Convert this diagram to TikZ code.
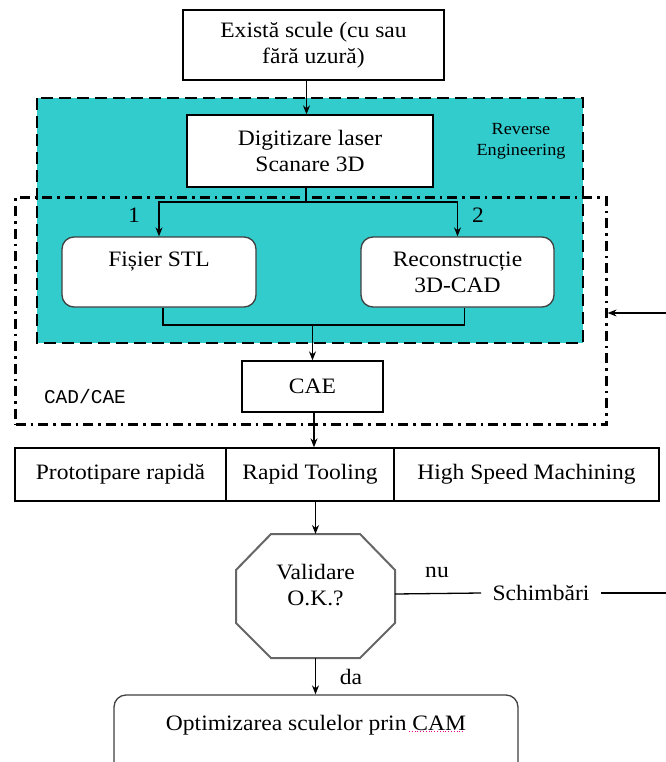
\documentclass[tikz,border=0pt]{standalone}
\usepackage{fontspec}
\setmainfont[FakeStretch=1.07]{Liberation Serif}
\newfontfamily\monofont{Liberation Mono}
\usetikzlibrary{arrows.meta}
\definecolor{tealfill}{RGB}{51,204,204}
\tikzset{
  txt/.style={font=\fontsize{22}{26}\selectfont, align=center},
  plainbox/.style={txt, draw=black, line width=1.3pt, fill=white, inner sep=0pt},
  roundbox/.style={txt, draw=black!75, line width=1.3pt, fill=white, rounded corners=12pt, inner sep=0pt},
  flow/.style={line width=1.3pt, -{Stealth[length=9pt,width=7pt]}},
  link/.style={line width=1.3pt},
}
\begin{document}
\begin{tikzpicture}[x=1pt,y=-1pt]
\useasboundingbox (0,0) rectangle (665,762);

% Reverse Engineering region
\fill[tealfill] (37,98) rectangle (583,343);
% CAD/CAE region
\node[draw=black, line width=2.2pt, dash pattern=on 10pt off 5pt on 2.5pt off 5pt,
      minimum width=591pt, minimum height=227pt, inner sep=0pt] (cad) at (311,311) {};
\draw[black, line width=2.8pt, dash pattern=on 12pt off 6pt] (37,98) rectangle (583,343);
\node[font=\fontsize{17}{21}\selectfont, align=center] (re) at (521,141) {Reverse\\Engineering};
\node[font=\monofont\fontsize{19.5}{21}\selectfont] (cadlbl) at (85,397) {CAD/CAE};

% boxes
\node[plainbox, minimum width=261pt, minimum height=70pt] (top) at (313.5,45) {Există scule (cu sau\\fără uzură)};
\node[plainbox, minimum width=246pt, minimum height=72pt] (dig) at (310,151) {Digitizare laser\\Scanare 3D};
\node[roundbox, minimum width=194pt, minimum height=70pt] (stl) at (159,272) {Fișier STL\\\mbox{}};
\node[roundbox, minimum width=193pt, minimum height=70pt] (rec) at (457.5,272) {Reconstrucție\\3D-CAD};
\node[plainbox, minimum width=141pt, minimum height=51pt] (cae) at (312.5,386.5) {CAE};

\node[plainbox, minimum width=211pt, minimum height=53pt] (proto) at (120.5,474.5) {Prototipare rapidă};
\node[plainbox, minimum width=168pt, minimum height=53pt] (tool) at (310,474.5) {Rapid Tooling};
\node[plainbox, minimum width=265pt, minimum height=53pt] (hsm) at (526.5,474.5) {High Speed Machining};

% decision octagon
\coordinate (octN) at (315.5,534);
\coordinate (octS) at (315.5,658);
\coordinate (octE) at (395,594);
\draw[line width=2pt, draw=black!60, fill=white]
  (271,534) -- (360,534) -- (395,570) -- (395,623) -- (360,658) -- (271,658) -- (236,623) -- (236,570) -- cycle;
\node[txt] (val) at (315.5,585) {Validare\\O.K.?};

\node[roundbox, minimum width=404pt, minimum height=82pt] (opt) at (316,736) {Optimizarea sculelor prin CAM\\\mbox{}};
\draw[magenta, line width=0.8pt, dotted] (409,731.5) -- (464,731.5);

% labels
\node[txt] (n1) at (134,215) {1};
\node[txt] (n2) at (478,215) {2};
\node[txt] (nu) at (437,572) {nu};
\node[txt] (da) at (351,677) {da};
\node[txt] (sch) at (541,593) {Schimbări};

% connectors
\draw[flow] ([xshift=-7pt]top.south) -- ([xshift=-7pt]top.south |- dig.north);
\coordinate (split) at ([xshift=-4pt]dig.south |- 0,202);
\draw[link] ([xshift=-4pt]dig.south) -- (split);
\draw[flow] (split) -| (stl.north);
\draw[flow] (split) -| (rec.north);
\coordinate (merge) at (cae.north |- 0,325);
\draw[link] ([xshift=4pt]stl.south) |- (merge) -| ([xshift=7pt]rec.south);
\draw[flow] (merge) -- (cae.north);
\draw[flow] ([xshift=1.5pt]cae.south) -- ([xshift=1.5pt]cae.south |- tool.north);
\draw[flow] ([xshift=5.5pt]tool.south) -- (octN);
\draw[flow] (octS) -- (opt.north -| octS);
\draw[link] (octE) -- ([xshift=-8pt]sch.west);
\coordinate (back) at (668,313);
\draw[flow] ([xshift=8pt]sch.east) -| (back) -- (back -| cad.east);
\end{tikzpicture}
\end{document}
